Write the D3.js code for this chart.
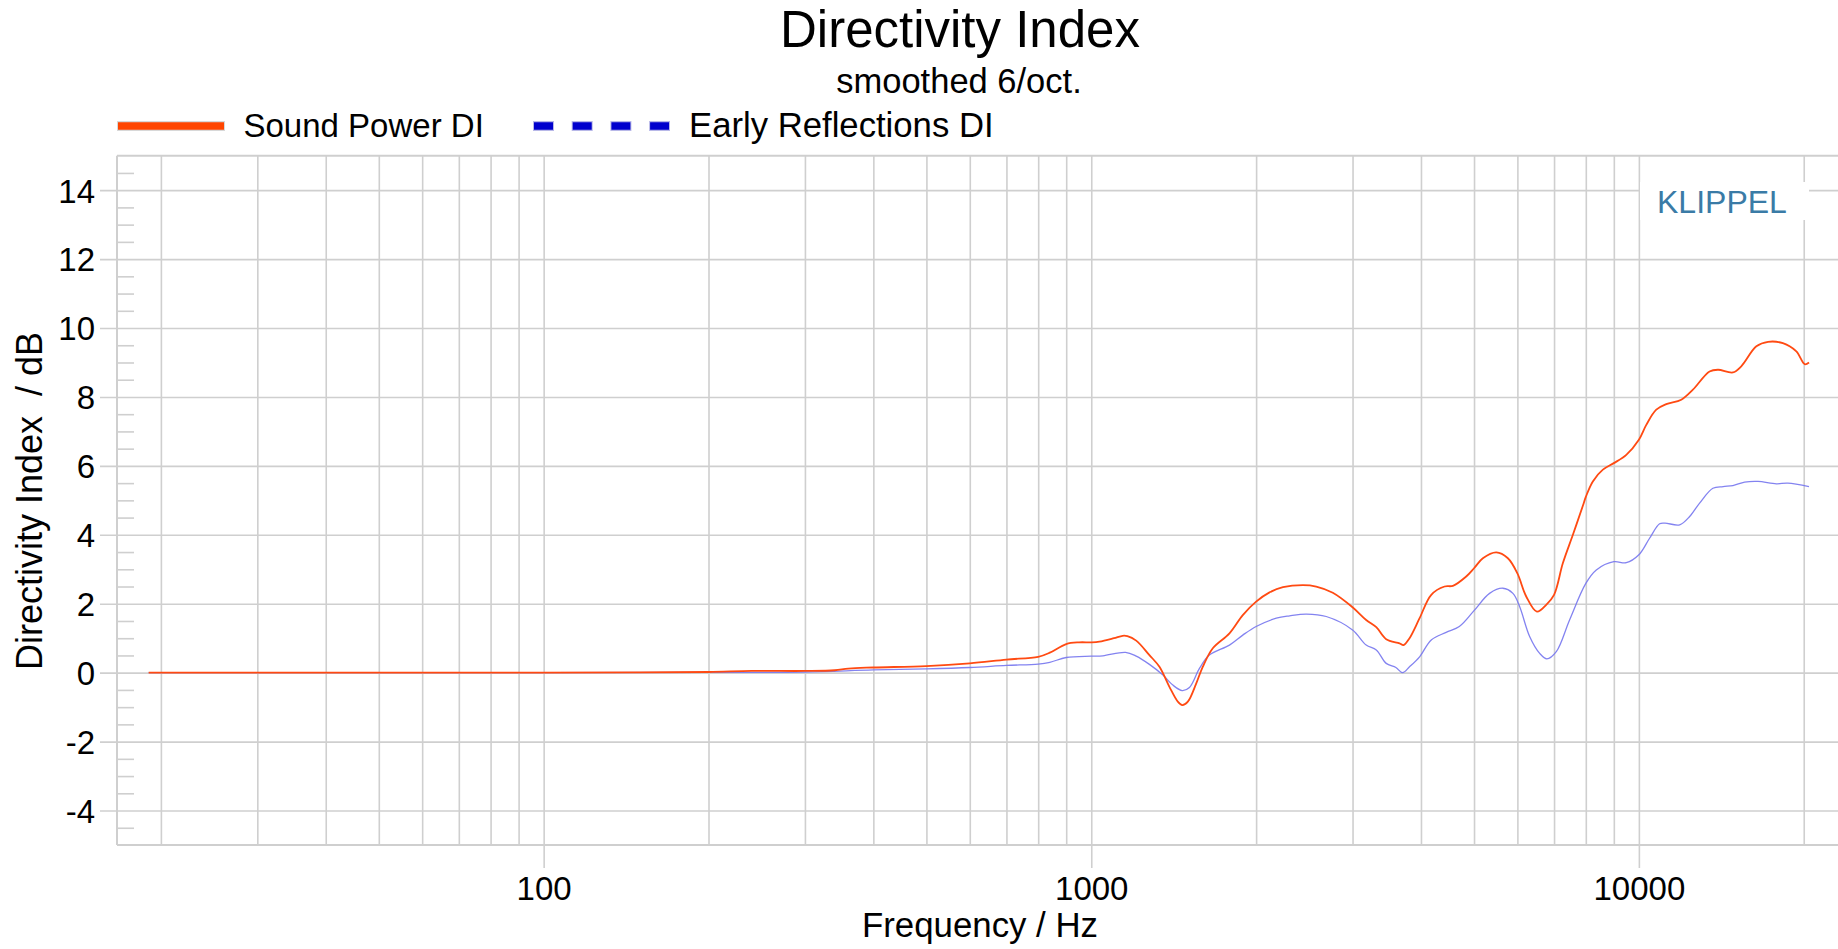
<!DOCTYPE html>
<html>
<head>
<meta charset="utf-8">
<script src="https://cdn.jsdelivr.net/npm/d3@7"></script>
<style>
  html, body { margin: 0; padding: 0; background: #ffffff; }
  svg { display: block; font-family: "Liberation Sans", Arial, sans-serif; }
  .tick text { font-family: "Liberation Sans", Arial, sans-serif; }
</style>
</head>
<body>
<svg id="chart" width="1838" height="949"></svg>
<script>
// ---------- data ----------
const title = "Directivity Index";
const subtitle = "smoothed 6/oct.";
const seriesNames = ["Sound Power DI", "Early Reflections DI"];
const xLabel = "Frequency / Hz";
const yLabel = "Directivity Index  / dB";

const spFreq = [19, 30, 50, 100, 150, 200, 240, 300, 340, 360, 400, 500, 600, 700, 800, 840, 900, 950, 1000, 1035, 1100, 1141, 1164, 1208, 1277, 1332, 1389, 1439, 1466, 1501, 1555, 1598, 1667, 1788, 1891, 2000, 2116, 2239, 2434, 2575, 2761, 3000, 3177, 3315, 3456, 3656, 3716, 3812, 3977, 4177, 4417, 4575, 4838, 5000, 5189, 5491, 5765, 6000, 6227, 6513, 6773, 7000, 7265, 7577, 7904, 8000, 8240, 8595, 9000, 9484, 10000, 10316, 10759, 11220, 11950, 12550, 13460, 13950, 14850, 15380, 16390, 17210, 18320, 19390, 20080, 20450];
const spDI   = [0, 0, 0, 0, 0.01, 0.02, 0.05, 0.05, 0.07, 0.12, 0.15, 0.19, 0.27, 0.38, 0.46, 0.58, 0.83, 0.88, 0.88, 0.9, 1.0, 1.07, 1.06, 0.93, 0.51, 0.17, -0.41, -0.84, -0.94, -0.84, -0.31, 0.17, 0.71, 1.14, 1.67, 2.06, 2.33, 2.48, 2.54, 2.50, 2.32, 1.90, 1.53, 1.32, 0.97, 0.85, 0.80, 1.0, 1.58, 2.26, 2.50, 2.52, 2.79, 3.03, 3.32, 3.49, 3.32, 2.88, 2.21, 1.77, 1.97, 2.26, 3.18, 4.0, 4.85, 5.1, 5.55, 5.89, 6.08, 6.32, 6.76, 7.19, 7.63, 7.79, 7.92, 8.21, 8.74, 8.79, 8.71, 8.89, 9.47, 9.60, 9.56, 9.32, 8.95, 9.0];

const erFreq = [19, 100, 200, 300, 400, 500, 600, 700, 800, 840, 900, 1000, 1050, 1155, 1208, 1277, 1352, 1409, 1466, 1511, 1577, 1643, 1788, 1891, 2000, 2177, 2303, 2470, 2686, 3000, 3177, 3315, 3456, 3600, 3702, 3812, 3977, 4177, 4447, 4700, 5000, 5337, 5644, 5888, 6056, 6317, 6589, 6792, 7066, 7472, 8000, 8361, 9000, 9484, 10000, 10460, 10910, 11160, 11870, 12380, 12910, 13650, 14250, 14850, 15600, 16500, 17830, 18700, 20450];
const erDI   = [0, 0, 0.01, 0.02, 0.08, 0.11, 0.15, 0.21, 0.25, 0.30, 0.44, 0.48, 0.49, 0.59, 0.48, 0.24, -0.07, -0.36, -0.52, -0.43, 0.13, 0.51, 0.80, 1.09, 1.34, 1.58, 1.65, 1.70, 1.63, 1.24, 0.80, 0.66, 0.27, 0.15, 0.0, 0.17, 0.46, 0.95, 1.17, 1.34, 1.80, 2.30, 2.45, 2.30, 1.92, 1.05, 0.56, 0.40, 0.61, 1.53, 2.59, 2.98, 3.22, 3.19, 3.42, 3.90, 4.32, 4.34, 4.29, 4.53, 4.92, 5.35, 5.40, 5.43, 5.53, 5.55, 5.48, 5.50, 5.40];

const xGridFreqs = [20, 30, 40, 50, 60, 70, 80, 90, 100, 200, 300, 400, 500, 600, 700, 800, 900, 1000, 2000, 3000, 4000, 5000, 6000, 7000, 8000, 9000, 10000, 20000];
const xLabelTicks = [100, 1000, 10000];
const yMajorTicks = [-4, -2, 0, 2, 4, 6, 8, 10, 12, 14];
const yMinorTicks = d3.range(-4.5, 15, 0.5).filter(v => Math.abs(v % 2) > 1e-9);

// ---------- layout ----------
const W = 1838, H = 949;
const plotL = 117, plotT = 155.7, plotB = 845, plotR = 1838;
const gridColor = "#cfcfcf";
const fontSize = 33;
const plainNum = d => String(d);   // hyphen-minus like the reference

const svg = d3.select("#chart");

const x = d3.scaleLog().domain([16.63, 23100]).range([plotL, plotR]);
const y = d3.scaleLinear().domain([-5, 15]).range([plotB, plotT]);

// vertical grid lines
const gx = svg.append("g").attr("transform", `translate(0,${plotB})`)
  .call(d3.axisBottom(x).tickValues(xGridFreqs).tickSize(-(plotB - plotT)).tickFormat(""));
gx.select(".domain").remove();
gx.selectAll(".tick line").attr("stroke", gridColor).attr("stroke-width", 1.6);

// decade ticks with labels
const gxl = svg.append("g").attr("transform", `translate(0,${plotB})`)
  .call(d3.axisBottom(x).tickValues(xLabelTicks).tickSize(23).tickPadding(8.6).tickFormat(plainNum));
gxl.select(".domain").remove();
gxl.selectAll(".tick line").attr("stroke", gridColor).attr("stroke-width", 1.6);
gxl.selectAll(".tick text").attr("fill", "#000").attr("font-size", fontSize);

// horizontal major grid lines (extend left as outer ticks)
const gy = svg.append("g").attr("transform", `translate(100,0)`)
  .call(d3.axisLeft(y).tickValues(yMajorTicks).tickSize(-(W - 100)).tickPadding(5).tickFormat(plainNum));
gy.select(".domain").remove();
gy.selectAll(".tick line").attr("stroke", gridColor).attr("stroke-width", 1.6);
gy.selectAll(".tick text").attr("fill", "#000").attr("font-size", fontSize).attr("dy", "0.36em");

// minor y ticks
const gym = svg.append("g").attr("transform", `translate(${plotL},0)`)
  .call(d3.axisLeft(y).tickValues(yMinorTicks).tickSize(-17).tickFormat(""));
gym.select(".domain").remove();
gym.selectAll(".tick line").attr("stroke", gridColor).attr("stroke-width", 1.6);

// frame
const frame = svg.append("g").attr("stroke", gridColor).attr("stroke-width", 2).attr("fill", "none");
frame.append("line").attr("x1", plotL).attr("x2", plotR).attr("y1", plotT).attr("y2", plotT);
frame.append("line").attr("x1", plotL).attr("x2", plotR).attr("y1", plotB).attr("y2", plotB);
frame.append("line").attr("x1", plotL).attr("x2", plotL).attr("y1", plotT).attr("y2", plotB);

// KLIPPEL label
svg.append("rect").attr("x", 1640).attr("y", 182).attr("width", 169).attr("height", 38).attr("fill", "#fff");
svg.append("text").attr("x", 1657).attr("y", 213).attr("font-size", 32).attr("fill", "#3a7ba6").text("KLIPPEL");

// curves
const line = d3.line().x(d => x(d[0])).y(d => y(d[1])).curve(d3.curveCatmullRom.alpha(0.5));
const erData = erFreq.map((f, i) => [f, erDI[i]]);
const spData = spFreq.map((f, i) => [f, spDI[i]]);
svg.append("path").datum(erData).attr("d", line).attr("fill", "none")
  .attr("stroke", "#7676ee").attr("stroke-width", 1.3).attr("stroke-opacity", 0.9);
svg.append("path").datum(spData).attr("d", line).attr("fill", "none")
  .attr("stroke", "#ff4a12").attr("stroke-width", 1.8);

// titles
svg.append("text").attr("x", 960).attr("y", 47).attr("text-anchor", "middle").attr("font-size", 51).attr("fill", "#000").text(title);
svg.append("text").attr("x", 959).attr("y", 93).attr("text-anchor", "middle").attr("font-size", 34.5).attr("fill", "#000").text(subtitle);

// legend
const lg = svg.append("g");
lg.append("line").attr("x1", 117).attr("x2", 225).attr("y1", 126).attr("y2", 126)
  .attr("stroke", "#d8d8d8").attr("stroke-width", 10);
lg.append("line").attr("x1", 118).attr("x2", 224).attr("y1", 126).attr("y2", 126)
  .attr("stroke", "#ff4500").attr("stroke-width", 7.5);
lg.append("text").attr("x", 243.5).attr("y", 137).attr("font-size", fontSize).attr("fill", "#000").text(seriesNames[0]);
lg.append("line").attr("x1", 533).attr("x2", 670).attr("y1", 126).attr("y2", 126)
  .attr("stroke", "#b8b8e8").attr("stroke-width", 10).attr("stroke-dasharray", "21 17.7");
lg.append("line").attr("x1", 534).attr("x2", 669).attr("y1", 126).attr("y2", 126)
  .attr("stroke", "#0000cd").attr("stroke-width", 7.5).attr("stroke-dasharray", "19 19.7");
lg.append("text").attr("x", 689).attr("y", 137).attr("font-size", 34.7).attr("fill", "#000").text(seriesNames[1]);

// axis titles
svg.append("text").attr("x", 980).attr("y", 937).attr("text-anchor", "middle").attr("font-size", 34.8).attr("fill", "#000").text(xLabel);
svg.append("text").attr("transform", "translate(42,501) rotate(-90)").attr("text-anchor", "middle")
  .attr("font-size", 36).attr("fill", "#000").style("white-space", "pre").text(yLabel);
</script>
</body>
</html>
